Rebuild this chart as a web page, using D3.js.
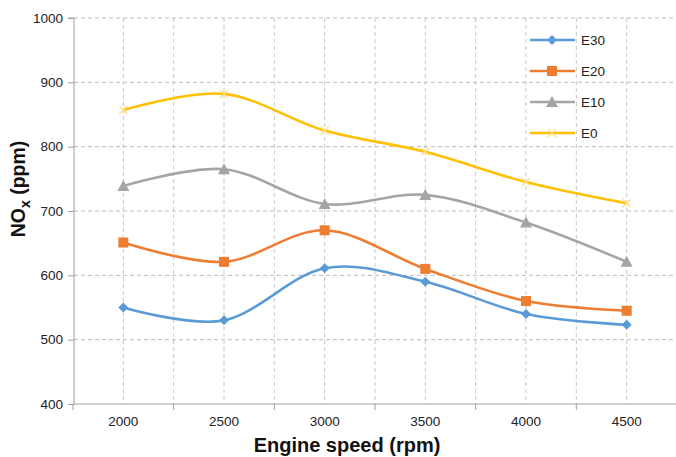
<!DOCTYPE html>
<html><head><meta charset="utf-8">
<script src="https://cdn.jsdelivr.net/npm/d3@7"></script>
<style>body{margin:0;background:#fff}svg{display:block;font-family:"Liberation Sans",Arial,sans-serif}</style>
</head><body><svg id="c" width="676" height="457"></svg>
<script>
const categories = ["2000","2500","3000","3500","4000","4500"];
const seriesNames = ["E30","E20","E10","E0"];
const E30 = [550,530,611,590,540,523];
const E20 = [651,621,670,610,560,545];
const E10 = [739,765,711,725,682,621];
const E0  = [857,882,825,792,745,712];
const yTicks = [400,500,600,700,800,900,1000];
const colors = ["#5B9BD5","#ED7D31","#A5A5A5","#FFC000"];
const markers = ["diamond","square","triangle","x"];
const values = [E30,E20,E10,E0];

const svg = d3.select("#c");
const L=74, R=677, T=18, B=404;
const x = d3.scaleBand().domain(categories).range([L-1,R]).padding(0);
const y = d3.scaleLinear().domain([400,1000]).range([B,T]);
const cx = c => x(c)+x.bandwidth()/2;

// grid
const g = svg.append("g");
yTicks.filter(t=>t>400).forEach(t=>{
  g.append("line").attr("x1",L).attr("x2",R).attr("y1",y(t)).attr("y2",y(t))
   .attr("stroke","#bdbdbd").attr("stroke-dasharray","4,3").attr("stroke-width",1);
});
categories.forEach((c,i)=>{
  g.append("line").attr("x1",cx(c)).attr("x2",cx(c)).attr("y1",T).attr("y2",B)
   .attr("stroke","#c8c8c8").attr("stroke-dasharray","4,3");
  if(i>0) g.append("line").attr("x1",x(c)).attr("x2",x(c)).attr("y1",T).attr("y2",B)
   .attr("stroke","#c8c8c8").attr("stroke-dasharray","4,3");
});

// axes
const ya = svg.append("g").attr("transform",`translate(${L},0)`)
  .call(d3.axisLeft(y).tickValues(yTicks).tickSize(6).tickPadding(5).tickFormat(d3.format("d")));
ya.select(".domain").attr("stroke","#a0a0a0").attr("d",`M-6,${T}H0V${B}`);
ya.selectAll(".tick line").attr("stroke","#a0a0a0");
ya.selectAll("text").attr("fill","#222").attr("font-size",13.5).attr("font-family","Liberation Sans, Arial");

const xa = svg.append("g").attr("transform",`translate(0,${B})`);
xa.append("line").attr("x1",L-1).attr("x2",R).attr("stroke","#a0a0a0");
categories.forEach((c,i)=>{
  if(i>0) xa.append("line").attr("x1",x(c)).attr("x2",x(c)).attr("y1",0).attr("y2",6).attr("stroke","#a0a0a0");
  xa.append("text").attr("x",cx(c)).attr("y",22).attr("text-anchor","middle")
    .attr("fill","#222").attr("font-size",13.5).text(c);
});
xa.append("line").attr("x1",L-1).attr("x2",L-1).attr("y1",0).attr("y2",6).attr("stroke","#a0a0a0");

// labels
svg.append("text").attr("x",347).attr("y",452).attr("text-anchor","middle")
  .attr("font-size",20).attr("font-weight","bold").attr("fill","#111").text("Engine speed (rpm)");
const yl = svg.append("text").attr("transform","translate(25,189) rotate(-90)").attr("text-anchor","middle")
  .attr("font-size",19.5).attr("font-weight","bold").attr("fill","#111");
yl.append("tspan").text("NO");
yl.append("tspan").attr("font-size",14).attr("dy",5).text("x");
yl.append("tspan").attr("dy",-5).text(" (ppm)");

// lines
const line = d3.line().x((d,i)=>cx(categories[i])).y(d=>y(d)).curve(d3.curveCardinal.tension(0));
function drawMarker(sel, type, color, px, py){
  if(type==="diamond") sel.append("path").attr("d",`M${px},${py-5}L${px+5},${py}L${px},${py+5}L${px-5},${py}Z`).attr("fill",color);
  else if(type==="square") sel.append("rect").attr("x",px-5).attr("y",py-5).attr("width",10).attr("height",10).attr("fill",color);
  else if(type==="triangle") sel.append("path").attr("d",`M${px},${py-6}L${px+6},${py+5}L${px-6},${py+5}Z`).attr("fill",color);
  else { sel.append("path").attr("d",`M${px-4},${py-4}L${px+4},${py+4}M${px-4},${py+4}L${px+4},${py-4}`)
    .attr("stroke","#FFE08A").attr("stroke-width",1.5).attr("fill","none"); }
}
values.forEach((vals,s)=>{
  svg.append("path").datum(vals).attr("d",line).attr("fill","none")
    .attr("stroke",colors[s]).attr("stroke-width",2.6);
  vals.forEach((v,i)=>drawMarker(svg, markers[s], colors[s], cx(categories[i]), y(v)));
});

// legend
seriesNames.forEach((n,i)=>{
  const ly = 40 + i*31;
  svg.append("line").attr("x1",530).attr("x2",575).attr("y1",ly).attr("y2",ly)
    .attr("stroke",colors[i]).attr("stroke-width",2.6);
  drawMarker(svg, markers[i], colors[i], 552, ly);
  svg.append("text").attr("x",581).attr("y",ly+5).attr("font-size",13.5).attr("fill","#222").text(n);
});
</script></body></html>
